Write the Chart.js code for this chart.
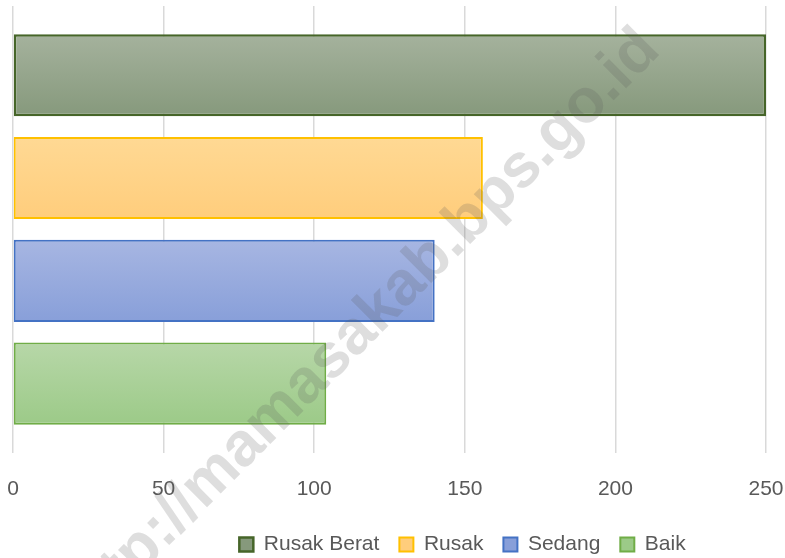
<!DOCTYPE html>
<html>
<head>
<meta charset="utf-8">
<script src="https://cdn.jsdelivr.net/npm/chart.js@4.4.1/dist/chart.umd.min.js"></script>
<style>
  body { margin: 0; background: #fff; }
  #wrap { width: 785px; height: 558px; position: relative; }
</style>
</head>
<body>
<div id="wrap"><canvas id="chart"></canvas></div>
<script>
// data
const categories = [""];
const seriesNames = ["Rusak Berat", "Rusak", "Sedang", "Baik"];
const rusakBerat = [250];
const rusak = [156];
const sedang = [140];
const baik = [104];
const xTicks = [0, 50, 100, 150, 200, 250];

// colours: [gradient top, gradient bottom, border]
const palette = [
  ["#a5b29d", "#86997c", "#466529"],
  ["#ffd994", "#ffcd7c", "#ffc000"],
  ["#a7b6e2", "#889fd9", "#4472c4"],
  ["#b7d7a8", "#9cca88", "#70ad47"],
];

const seriesValues = [rusakBerat, rusak, sedang, baik];

// per-bar vertical gradient, like the office fill
const gradientPlugin = {
  id: "barGradient",
  afterDatasetsUpdate(chart) {
    const ctx = chart.ctx;
    chart.data.datasets.forEach((ds, i) => {
      const meta = chart.getDatasetMeta(i);
      meta.data.forEach((bar) => {
        const top = bar.y - bar.height / 2;
        const bottom = bar.y + bar.height / 2;
        const g = ctx.createLinearGradient(0, top, 0, bottom);
        g.addColorStop(0, palette[i][0]);
        g.addColorStop(1, palette[i][1]);
        bar.options = Object.assign({}, bar.options, { backgroundColor: g });
      });
    });
  },
};

// legend sits right of centre in the original
const legendShift = {
  id: "legendShift",
  afterLayout(chart) {
    chart.legend.left += 73;
    chart.legend.right += 73;
  },
};

// the site watermark drawn over the bars
const watermarkPlugin = {
  id: "watermark",
  afterDraw(chart) {
    const ctx = chart.ctx;
    ctx.save();
    ctx.translate(360, 330);
    ctx.rotate(-45 * Math.PI / 180);
    ctx.font = "bold 62px 'Liberation Sans', Arial, sans-serif";
    ctx.fillStyle = "rgba(90, 90, 90, 0.2)";
    ctx.textAlign = "center";
    ctx.textBaseline = "middle";
    ctx.fillText("http://mamasakab.bps.go.id", 0, 0);
    ctx.restore();
  },
};

const datasets = seriesNames.map((name, i) => ({
  label: name,
  data: seriesValues[i],
  backgroundColor: palette[i][1],
  borderColor: palette[i][2],
  borderWidth: i === 0 ? 2.5 : 2,
  borderSkipped: false,
  categoryPercentage: 0.92,
  barPercentage: 0.8,
}));

Chart.defaults.font.family = "'Liberation Sans', Arial, sans-serif";
Chart.defaults.color = "#595959";

new Chart(document.getElementById("chart"), {
  type: "bar",
  data: { labels: categories, datasets: datasets },
  options: {
    indexAxis: "y",
    responsive: true,
    maintainAspectRatio: false,
    animation: false,
    layout: { padding: { left: 13, right: 19, top: 6, bottom: -7 } },
    scales: {
      x: {
        min: 0,
        max: 250,
        afterBuildTicks: (scale) => {
          scale.ticks = xTicks.map((v) => ({ value: v }));
        },
        afterFit: (scale) => {
          scale.paddingLeft = 0;
          scale.paddingRight = 0;
          scale.height -= 12;
        },
        grid: { color: "#d9d9d9", lineWidth: 1.5, drawTicks: false },
        border: { display: false },
        ticks: { color: "#595959", font: { size: 21 }, padding: 24 },
      },
      y: {
        display: false,
      },
    },
    plugins: {
      legend: {
        position: "bottom",
        labels: {
          color: "#595959",
          font: { size: 21 },
          boxWidth: 14,
          boxHeight: 14,
          padding: 20,
        },
      },
      tooltip: { enabled: false },
    },
  },
  plugins: [gradientPlugin, legendShift, watermarkPlugin],
});
</script>
</body>
</html>
